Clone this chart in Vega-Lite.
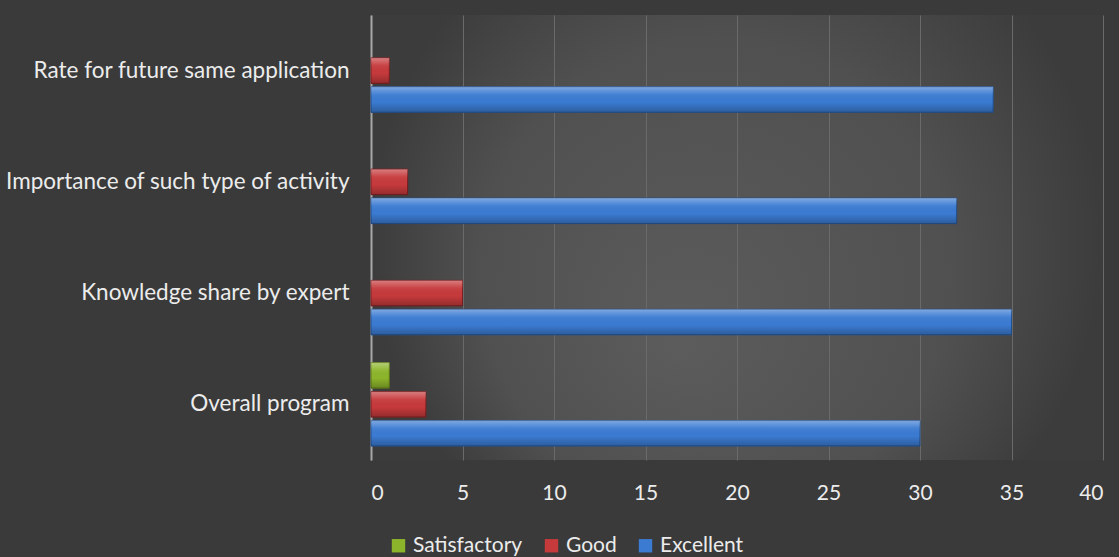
{
  "$schema": "https://vega.github.io/schema/vega-lite/v6.json",
  "width": 732,
  "height": 445,
  "autosize": {"type": "none"},
  "padding": {"left": 371, "top": 15, "right": 16, "bottom": 97},
  "background": "#3a3a3a",
  "config": {
    "font": "Lato",
    "view": {
      "stroke": null,
      "fill": {
        "gradient": "radial",
        "x1": 0.42, "y1": 0.65, "r1": 0,
        "x2": 0.5, "y2": 0.5, "r2": 0.5,
        "stops": [
          {"offset": 0, "color": "#5c5c5c"},
          {"offset": 0.65, "color": "#505050"},
          {"offset": 1, "color": "#3c3c3c"}
        ]
      }
    }
  },
  "data": {
    "values": [
      {"category": "Rate for future same application", "series": "Good", "value": 1},
      {"category": "Rate for future same application", "series": "Excellent", "value": 34},
      {"category": "Importance of such type of activity", "series": "Good", "value": 2},
      {"category": "Importance of such type of activity", "series": "Excellent", "value": 32},
      {"category": "Knowledge share by expert ", "series": "Good", "value": 5},
      {"category": "Knowledge share by expert ", "series": "Excellent", "value": 35},
      {"category": "Overall program", "series": "Satisfactory", "value": 1},
      {"category": "Overall program", "series": "Good", "value": 3},
      {"category": "Overall program", "series": "Excellent", "value": 30}
    ]
  },
  "encoding": {
    "y": {
      "field": "category",
      "type": "nominal",
      "sort": ["Rate for future same application", "Importance of such type of activity", "Knowledge share by expert ", "Overall program"],
      "scale": {"paddingInner": 0.25, "paddingOuter": 0.125},
      "axis": {
        "title": null,
        "ticks": false,
        "domain": true,
        "domainColor": "#a8a8a8",
        "domainWidth": 2,
        "labelColor": "#ececec",
        "labelFontSize": 22.5,
        "labelPadding": 22,
        "labelLimit": 400
      }
    },
    "yOffset": {
      "field": "series",
      "type": "nominal",
      "scale": {"domain": ["Satisfactory", "Good", "Excellent"], "paddingInner": 0.12}
    },
    "x": {
      "field": "value",
      "type": "quantitative",
      "scale": {"domain": [0, 40]},
      "axis": {
        "title": null,
        "values": [0, 5, 10, 15, 20, 25, 30, 35, 40],
        "labelOverlap": false,
        "domain": false,
        "ticks": false,
        "grid": true,
        "gridColor": "#6a6a6a",
        "gridWidth": 1,
        "labelColor": "#ececec",
        "labelFontSize": 21,
        "labelPadding": 22
      }
    }
  },
  "layer": [
    {
      "mark": {"type": "bar", "strokeWidth": 1},
      "encoding": {
        "color": {
          "field": "series",
          "type": "nominal",
          "scale": {
            "domain": ["Satisfactory", "Good", "Excellent"],
            "range": ["#8db52b", "#c63a3c", "#3b7bd2"]
          },
          "legend": {
            "title": null,
            "orient": "none",
            "direction": "horizontal",
            "legendX": 17,
            "legendY": 520,
            "symbolType": "square",
            "symbolSize": 180,
            "symbolStrokeWidth": 0,
            "labelColor": "#ececec",
            "labelFontSize": 21,
            "columnPadding": 18,
            "labelOffset": 4
          }
        },
        "stroke": {
          "field": "series",
          "type": "nominal",
          "scale": {
            "domain": ["Satisfactory", "Good", "Excellent"],
            "range": ["#5e7a18", "#7e1e20", "#22508f"]
          },
          "legend": null
        }
      }
    },
    {
      "mark": {
        "type": "bar",
        "strokeWidth": 0,
        "fill": {
          "gradient": "linear",
          "x1": 0, "y1": 0, "x2": 0, "y2": 1,
          "stops": [
            {"offset": 0, "color": "rgba(255,255,255,0.35)"},
            {"offset": 0.3, "color": "rgba(255,255,255,0.05)"},
            {"offset": 0.6, "color": "rgba(0,0,0,0)"},
            {"offset": 1, "color": "rgba(0,0,0,0.25)"}
          ]
        }
      }
    }
  ]
}
